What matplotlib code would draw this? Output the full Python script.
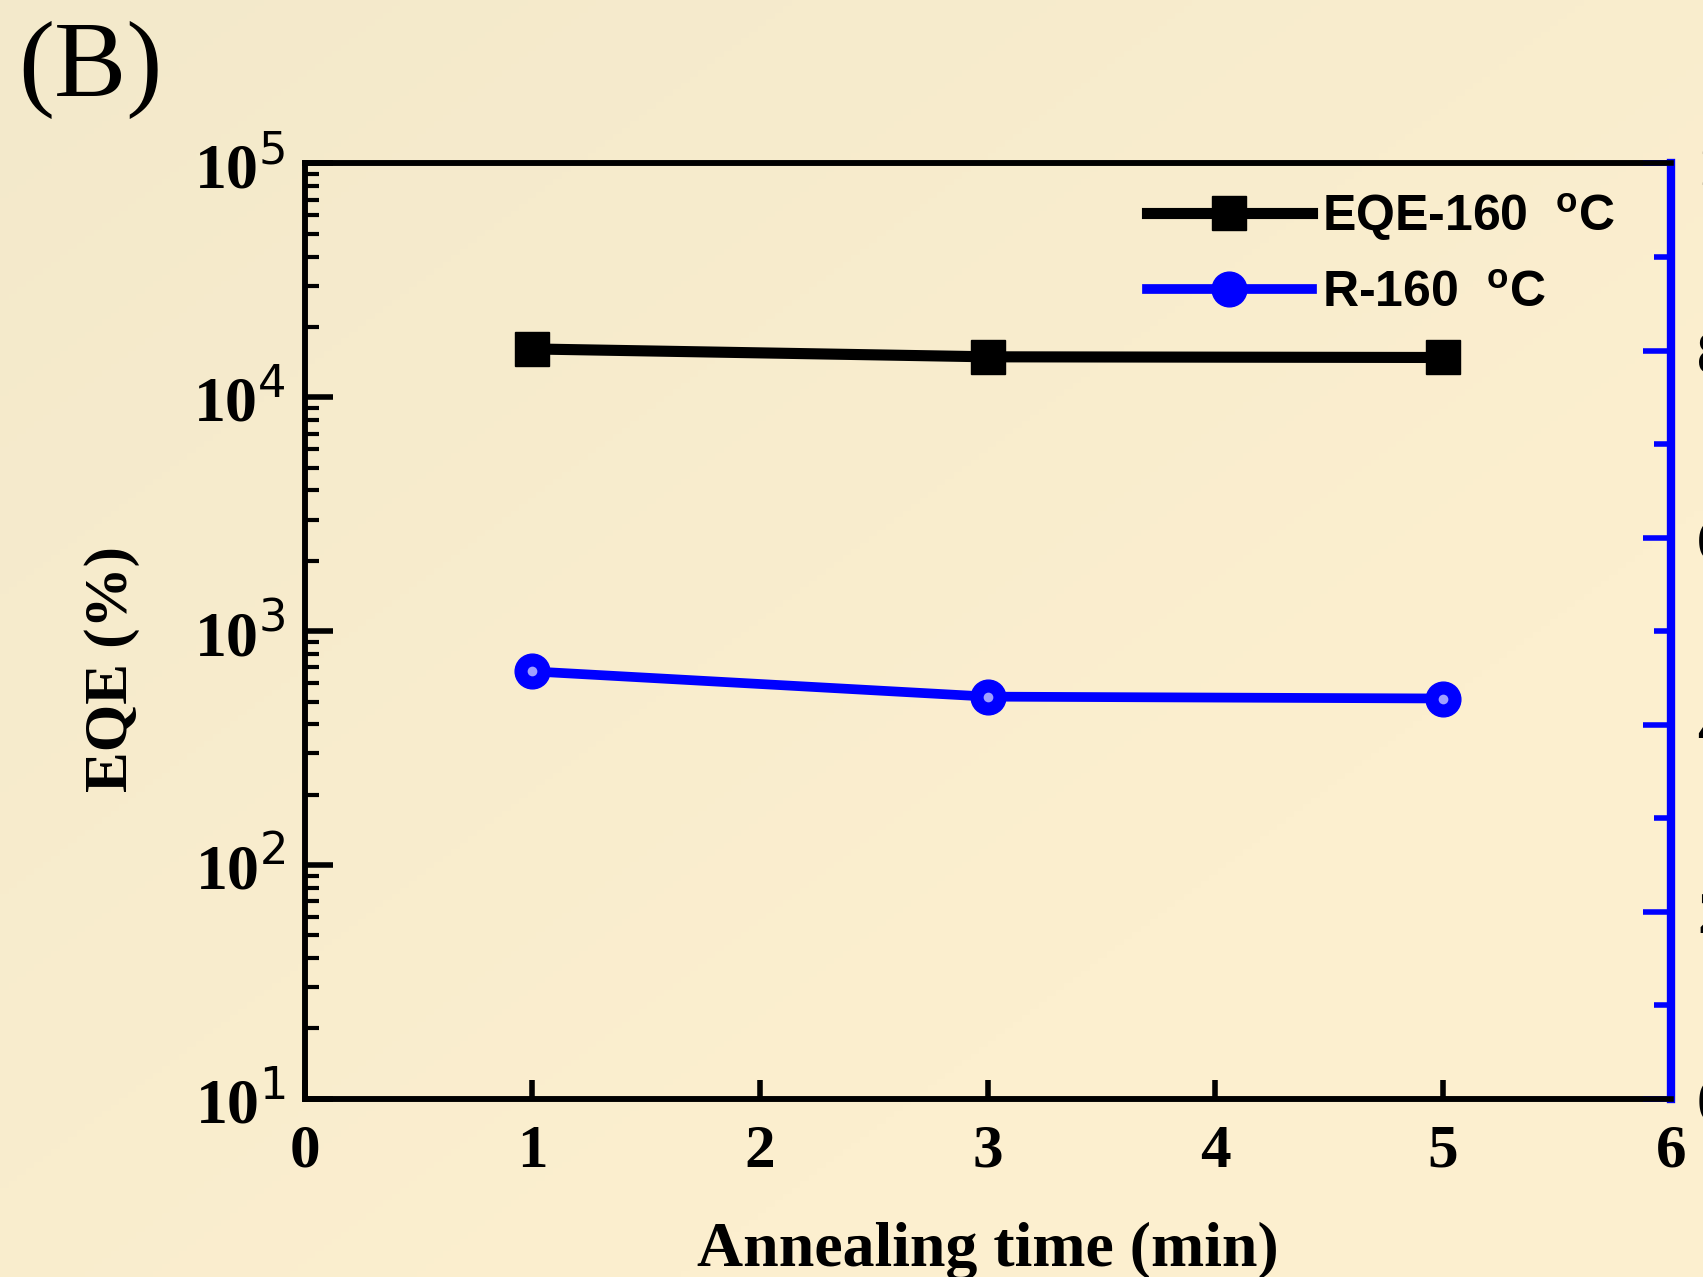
import numpy as np
import matplotlib
matplotlib.use("Agg")
import matplotlib.pyplot as plt
from matplotlib.ticker import LogLocator, FuncFormatter, MultipleLocator

# data
time_min = [1, 3, 5]
eqe_pct = [16100, 14900, 14800]
resp = [4.57, 4.30, 4.28]
eqe_label = "EQE-160  $^{\\mathregular{o}}$C"
r_label = "R-160  $^{\\mathregular{o}}$C"

plt.rcParams['mathtext.fontset'] = 'custom'
plt.rcParams['mathtext.rm'] = 'Liberation Serif'
plt.rcParams['mathtext.bf'] = 'Liberation Serif:bold'

fig = plt.figure(figsize=(17.03, 12.77), dpi=100)

# cream background with a soft gradient
bg = fig.add_axes([0, 0, 1, 1], zorder=-10)
gx, gy = np.meshgrid(np.linspace(0, 1, 200), np.linspace(0, 1, 200))
g = np.clip((gx + gy) / 1.4, 0, 1)
c0 = np.array([243, 233, 203]) / 255
c1 = np.array([252, 239, 207]) / 255
img = c0[None, None, :] * (1 - g[..., None]) + c1[None, None, :] * g[..., None]
bg.imshow(img, aspect='auto', extent=[0, 1, 0, 1], origin='upper')
bg.axis('off')

ax = fig.add_axes([0.179, 0.1395, 0.802, 0.7325])
ax.set_facecolor('none')
ax2 = ax.twinx()

ax.plot(time_min, eqe_pct, color='black', lw=8, marker='s', ms=25,
        label=eqe_label, zorder=3)
ax2.plot(time_min, resp, color='blue', lw=7, marker='o', ms=25,
         label=r_label, zorder=3)
ax2.plot(time_min, resp, ls='none', marker='o', ms=7, mfc='#a0a0ff',
         mec='none', zorder=4)

ax.set_yscale('log')
ax.set_xlim(0, 6)
ax.set_ylim(10, 1e5)
ax2.set_ylim(0, 10)

serif_bold = dict(family='Liberation Serif', weight='bold')
ax.xaxis.set_major_locator(MultipleLocator(1))
ax.yaxis.set_major_locator(LogLocator(base=10, numticks=10))
ax.yaxis.set_minor_locator(LogLocator(base=10, subs=np.arange(2, 10), numticks=10))
ax.yaxis.set_major_formatter(FuncFormatter(
    lambda v, p: r'$\mathbf{10}^{\mathregular{%d}}$' % round(np.log10(v))))
ax.tick_params(axis='x', which='major', direction='in', length=14, width=4,
               pad=18, labelsize=44, top=False)
ax.tick_params(axis='y', which='major', direction='in', length=20, width=4,
               pad=14, labelsize=46)
ax.tick_params(axis='y', which='minor', direction='in', length=10, width=3)
for lab in ax.get_xticklabels():
    lab.set_fontproperties(dict(family='Liberation Serif', weight='bold', size=44))

ax2.yaxis.set_major_locator(MultipleLocator(2))
ax2.yaxis.set_minor_locator(MultipleLocator(1))
ax2.tick_params(axis='y', which='major', direction='in', length=20, width=4,
                colors='blue', labelcolor='black', pad=19, labelsize=44)
ax2.tick_params(axis='y', which='minor', direction='in', length=12, width=4, colors='blue')
for lab in ax2.get_yticklabels():
    lab.set_fontproperties(dict(family='Liberation Serif', weight='bold', size=44))

for s in ['left', 'bottom', 'top']:
    ax.spines[s].set_linewidth(4)
    ax2.spines[s].set_linewidth(4)
ax.spines['right'].set_visible(False)
ax2.spines['right'].set_color('blue')
ax2.spines['right'].set_linewidth(6)

ax.set_xlabel("Annealing time (min)", fontsize=46, labelpad=30, **serif_bold)
ax.set_ylabel("EQE (%)", fontsize=44, **serif_bold)
ax.yaxis.set_label_coords(-0.121, 0.46)

h1, l1 = ax.get_legend_handles_labels()
h2, l2 = ax2.get_legend_handles_labels()
ax.legend(h1 + h2, l1 + l2, loc='upper right', frameon=False,
          handlelength=3.3, handletextpad=0.2, labelspacing=0.55,
          borderaxespad=0.3, bbox_to_anchor=(0.985, 1.008),
          prop=dict(family='Liberation Sans', weight='bold', size=36))

fig.text(0.011, 0.945, "(B)", fontsize=78, family='Liberation Serif', va='center')

fig.savefig("out.png", dpi=100)
